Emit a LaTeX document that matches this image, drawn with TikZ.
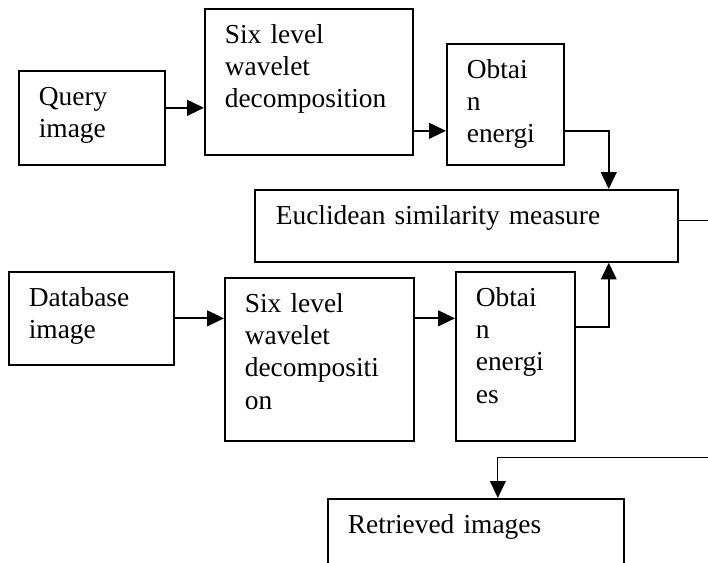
\documentclass[tikz,border=0pt]{standalone}
\usepackage{fontspec}
\setmainfont{Liberation Serif}
\usetikzlibrary{arrows.meta, positioning, calc}

\begin{document}
\begin{tikzpicture}[box/.style={draw, line width=1.2pt, anchor=north west, align=left, inner xsep=5mm, inner ysep=0pt, text height=8.75mm, font=\fontsize{19.5pt}{22.8pt}\selectfont},
                        arr/.style={-{Triangle[length=4.2mm, width=3.9mm]}, line width=1.4pt}]
        \useasboundingbox (0,0) rectangle (17.7,-14.05);
        \node[box, text width=2.65cm, text depth=14.75mm] (query) at (0.45,-1.75) {Query\\image};
        \node[box, text width=4.2cm, text depth=27.75mm] (wav1) at (5.1,-0.2) {Six level\\wavelet\\decomposition};
        \node[box, text width=1.925cm, text depth=21.5mm] (en1) at (11.15,-1.075) {Obtai\\n\\energi};
        \node[box, text width=9.525cm, text depth=9.25mm, inner xsep=5.25mm] (euclid) at (6.35,-4.725) {Euclidean similarity measure};
        \node[box, text width=3.125cm, text depth=14.5mm] (db) at (0.2,-6.775) {Database\\image};
        \node[box, text width=3.725cm, text depth=32mm] (wav2) at (5.6,-6.925) {Six level\\wavelet\\decompositi\\on};
        \node[box, text width=1.975cm, text depth=33.5mm] (en2) at (11.375,-6.775) {Obtai\\n\\energi\\es};
        \node[box, text width=6.4cm, text depth=16.25mm] (ret) at (8.175,-12.45) {Retrieved images};
        \draw[arr] ([yshift=2.5mm]query.east) -- ([yshift=2.5mm]query.east -| wav1.west);
        \draw[arr] ([yshift=-12.25mm]wav1.east) -- ([yshift=-12.25mm]wav1.east -| en1.west);
        \draw[arr] ([yshift=-6.6mm]en1.east) -| ([xshift=35.6mm]euclid.north);
        \draw[arr] (db.east) -- (db.east -| wav2.west);
        \draw[arr] (db.east -| wav2.east) -- (db.east -| en2.west);
        \draw[arr] ([yshift=7.4mm]en2.east) -| ([xshift=35.6mm]euclid.south);
        \draw[arr, line width=0.9pt] ([yshift=1.25mm]euclid.east) -| ++(1.2,-5.925) -| ([xshift=5.5mm]ret.north);
    \end{tikzpicture}
\end{document}
